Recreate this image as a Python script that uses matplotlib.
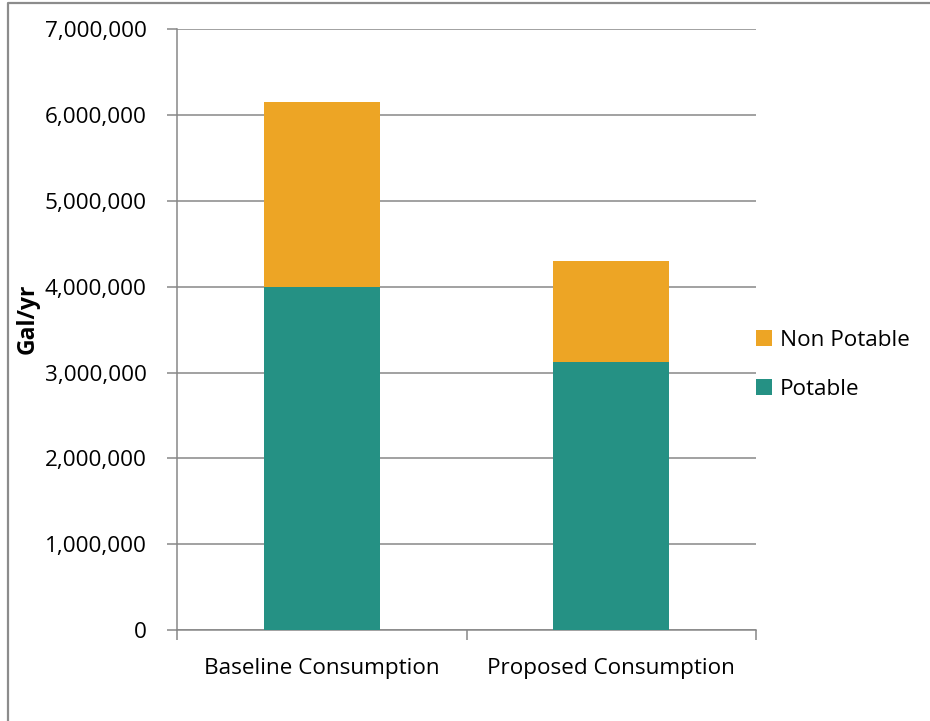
import matplotlib
matplotlib.use("Agg")
import matplotlib.pyplot as plt
from matplotlib.patches import Patch
from matplotlib.lines import Line2D
from matplotlib.ticker import FuncFormatter, MultipleLocator

categories = ["Baseline Consumption", "Proposed Consumption"]
potable = [4000000, 3125000]
non_potable = [2150000, 1175000]
series_labels = ["Potable", "Non Potable"]
y_ticks = [0, 1000000, 2000000, 3000000, 4000000, 5000000, 6000000, 7000000]

TEAL = "#259184"
ORANGE = "#EDA525"
GRID = "#878787"

plt.rcParams["font.family"] = ["Open Sans", "DejaVu Sans"]

fig = plt.figure(figsize=(9.3, 7.21), dpi=100)
W, H = 930, 721
ax = fig.add_axes([177 / W, 1 - 630 / H, (756 - 177) / W, (630 - 29.3) / H])

x = list(range(len(categories)))
ax.bar(x, potable, width=0.4, color=TEAL, zorder=3)
ax.bar(x, non_potable, width=0.4, bottom=potable, color=ORANGE, zorder=3)

ax.set_xlim(-0.5, len(categories) - 0.5)
ax.set_ylim(0, 7000000)
ax.set_yticks(y_ticks)
ax.yaxis.set_major_formatter(FuncFormatter(lambda v, p: f"{int(v):,}"))
ax.yaxis.grid(True, color=GRID, linewidth=1.1, zorder=0)
ax.set_axisbelow(True)

ax.set_xticks(x)
ax.set_xticklabels(categories)
ax.xaxis.set_minor_locator(MultipleLocator(1.0, offset=0.5))
ax.tick_params(axis="x", which="major", length=0, pad=20, labelsize=16.2)
ax.tick_params(axis="x", which="minor", length=7, width=1.1, color=GRID)
ax.tick_params(axis="y", length=7, width=1.1, color=GRID, pad=15, labelsize=16.2)

for side in ("top", "right"):
    ax.spines[side].set_visible(False)
for side in ("left", "bottom"):
    ax.spines[side].set_color(GRID)
    ax.spines[side].set_linewidth(1.1)

fig.text(28 / W, 1 - 319 / H, "Gal/yr", rotation=90, ha="center", va="center",
         fontsize=16.5, fontweight="bold")

handles = [Patch(facecolor=ORANGE, label=series_labels[1]),
           Patch(facecolor=TEAL, label=series_labels[0])]
fig.legend(handles=handles, loc="center left", bbox_to_anchor=(736 / W, 1 - 365 / H),
           frameon=False, fontsize=16.2, handlelength=0.7, handleheight=0.7,
           handletextpad=0.35, labelspacing=1.25)

fig.add_artist(Line2D([8 / W, 8 / W, 1.0], [0.0, 1 - 3 / H, 1 - 3 / H],
                      transform=fig.transFigure, color="#8C8C8C", linewidth=1.6))

fig.savefig("out.png", dpi=100, facecolor="white")
